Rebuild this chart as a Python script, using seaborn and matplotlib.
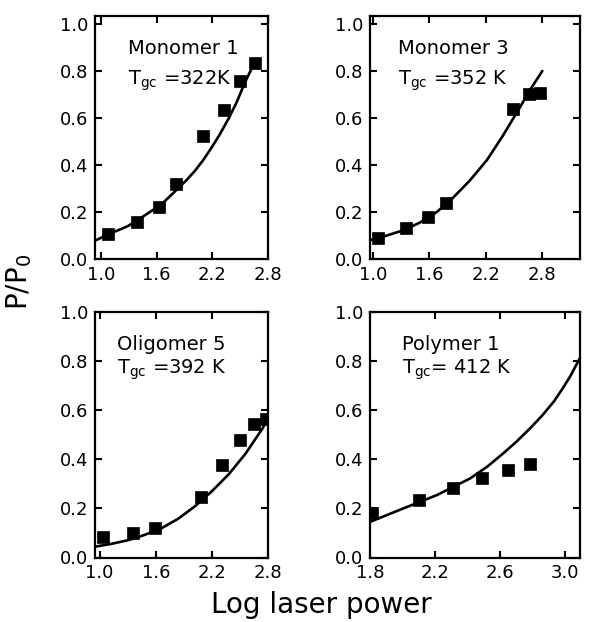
import matplotlib
matplotlib.use("Agg")
import matplotlib.pyplot as plt
import seaborn as sns

sns.set_theme(style="ticks")
plt.rcParams['font.family'] = ['DejaVu Sans']
plt.rcParams['mathtext.default'] = 'regular'
plt.rcParams['text.color'] = 'black'
plt.rcParams['axes.labelcolor'] = 'black'

# measured points (log laser power, P/P0)
mono1_x = [1.08, 1.385, 1.62, 1.81, 2.095, 2.33, 2.50, 2.66]
mono1_y = [0.107, 0.158, 0.22, 0.32, 0.525, 0.636, 0.757, 0.835]
mono1_fit_x = [0.935, 1.08, 1.29, 1.45, 1.65, 1.83, 1.92, 2.01, 2.10, 2.19, 2.28, 2.37, 2.46, 2.55, 2.66]
mono1_fit_y = [0.078, 0.105, 0.14, 0.18, 0.232, 0.30, 0.335, 0.374, 0.42, 0.473, 0.53, 0.594, 0.665, 0.75, 0.84]

mono3_x = [1.06, 1.35, 1.59, 1.78, 2.49, 2.66, 2.77]
mono3_y = [0.09, 0.13, 0.18, 0.24, 0.64, 0.70, 0.705]
mono3_fit_x = [0.97, 1.15, 1.33, 1.50, 1.68, 1.85, 2.03, 2.21, 2.38, 2.56, 2.67, 2.80]
mono3_fit_y = [0.08, 0.10, 0.123, 0.155, 0.20, 0.26, 0.334, 0.42, 0.524, 0.644, 0.72, 0.80]

olig5_x = [1.04, 1.36, 1.59, 2.085, 2.31, 2.505, 2.655, 2.78]
olig5_y = [0.082, 0.098, 0.12, 0.247, 0.376, 0.48, 0.544, 0.565]
olig5_fit_x = [0.95, 1.13, 1.31, 1.48, 1.66, 1.84, 2.02, 2.20, 2.38, 2.56, 2.74, 2.79]
olig5_fit_y = [0.044, 0.056, 0.071, 0.092, 0.119, 0.158, 0.209, 0.27, 0.339, 0.423, 0.525, 0.559]

poly1_x = [1.81, 2.10, 2.31, 2.49, 2.65, 2.785]
poly1_y = [0.18, 0.234, 0.284, 0.325, 0.357, 0.38]
poly1_fit_x = [1.8, 2.005, 2.21, 2.415, 2.52, 2.62, 2.70, 2.785, 2.86, 2.93, 2.98, 3.03, 3.09]
poly1_fit_y = [0.145, 0.20, 0.254, 0.322, 0.37, 0.425, 0.472, 0.527, 0.58, 0.636, 0.685, 0.738, 0.813]

names = ['Monomer 1', 'Monomer 3', 'Oligomer 5', 'Polymer 1']
tgc = ['T$_{gc}$ =322K', 'T$_{gc}$ =352 K', 'T$_{gc}$ =392 K', 'T$_{gc}$= 412 K']
xticks = [[1.0, 1.6, 2.2, 2.8], [1.0, 1.6, 2.2, 2.8], [1.0, 1.6, 2.2, 2.8], [1.8, 2.2, 2.6, 3.0]]
yticks = [0.0, 0.2, 0.4, 0.6, 0.8, 1.0]

W, H = 592, 622
fig = plt.figure(figsize=(W / 100, H / 100), dpi=100)

# panel boxes in pixels: left, right, bottom, top
boxes = [(95, 268, 259, 16), (370, 580, 259, 16), (95, 268, 557.5, 312), (370, 580, 557.5, 312)]
xlims = [(0.935, 2.80), (0.97, 3.2), (0.95, 2.80), (1.8, 3.09)]
ylims = [(0, 1.034), (0, 1.034), (0, 1.0), (0, 1.0)]
txt_pos = [(0.19, 0.905, 0.786), (0.133, 0.905, 0.786), (0.128, 0.906, 0.813), (0.152, 0.906, 0.813)]

pts = [(mono1_x, mono1_y), (mono3_x, mono3_y), (olig5_x, olig5_y), (poly1_x, poly1_y)]
fits = [(mono1_fit_x, mono1_fit_y), (mono3_fit_x, mono3_fit_y),
        (olig5_fit_x, olig5_fit_y), (poly1_fit_x, poly1_fit_y)]

for i in range(4):
    l, r, b, t = boxes[i]
    ax = fig.add_axes([l / W, 1 - b / H, (r - l) / W, (b - t) / H])
    sns.lineplot(x=fits[i][0], y=fits[i][1], sort=False, estimator=None,
                 color='black', lw=1.9, ax=ax)
    sns.scatterplot(x=pts[i][0], y=pts[i][1], marker='s', s=85, color='black',
                    edgecolor='black', linewidth=0.5, ax=ax, zorder=3)
    ax.set_xlim(*xlims[i])
    ax.set_ylim(*ylims[i])
    ax.set_xticks(xticks[i])
    ax.set_yticks(yticks)
    ax.set_xticklabels(['%.1f' % v for v in xticks[i]])
    ax.set_yticklabels(['%.1f' % v for v in yticks])
    ax.tick_params(direction='in', top=True, right=True, length=5, width=1.5,
                   labelsize=13, pad=5, colors='black')
    for sp in ax.spines.values():
        sp.set_linewidth(1.6)
        sp.set_color('black')
    tx, ty1, ty2 = txt_pos[i]
    ax.text(tx, ty1, names[i], transform=ax.transAxes, fontsize=14, va='top', ha='left')
    ax.text(tx, ty2, tgc[i], transform=ax.transAxes, fontsize=14, va='top', ha='left')

fig.text(19 / W, 1 - 282 / H, 'P/P$_0$', rotation=90, ha='center', va='center', fontsize=20)
fig.text(321 / W, 1 - 605 / H, 'Log laser power', ha='center', va='center', fontsize=20)

fig.savefig('out.png', dpi=100, facecolor='white')
